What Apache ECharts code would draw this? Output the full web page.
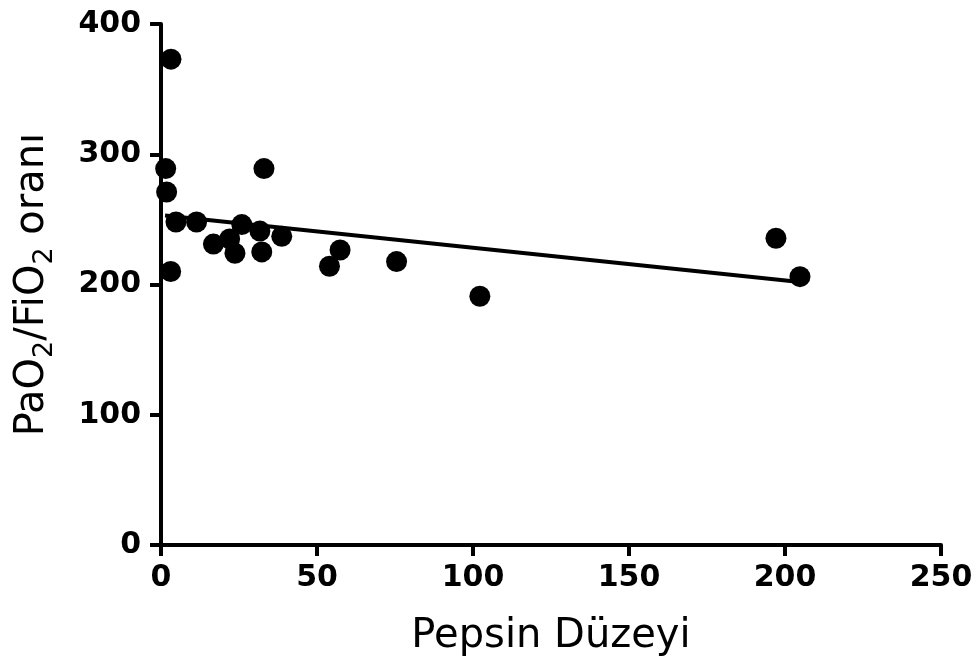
<!DOCTYPE html>
<html>
<head>
<meta charset="utf-8">
<script src="https://cdn.jsdelivr.net/npm/echarts@6/dist/echarts.min.js"></script>
<style>
  html, body { margin: 0; padding: 0; background: #fff; }
  #chart { width: 978px; height: 668px; }
</style>
</head>
<body>
<div id="chart"></div>
<script>
// pepsin level (x) vs PaO2/FiO2 ratio (y)
const pepsin = [3.2, 1.5, 1.8, 3.1, 4.8, 11.4, 16.8, 22, 23.7, 25.9, 31.7, 32.3, 33, 38.7, 54, 57.4, 75.5, 102.2, 197.1, 204.8]
const ratio = [373, 289, 271, 210, 248, 248, 231, 235, 224, 246, 241, 225, 289, 237, 214, 226.5, 217.6, 191, 235.5, 206]

// fitted regression line ends
const fitX = [1.3, 204.8]
const fitY = [253, 202]

const xTicks = [0, 250, 50]   // min, max, interval
const yTicks = [0, 400, 100]

const chart = echarts.init(document.getElementById('chart'))

const labelFont = {
  fontFamily: 'DejaVu Sans',
  fontWeight: 'bold',
  fontSize: 30,
  color: '#000'
}

const axisCommon = {
  splitLine: { show: false },
  axisLine: { show: true, onZero: false, lineStyle: { color: '#000', width: 4 } },
  axisTick: { show: true, length: 11, lineStyle: { color: '#000', width: 4 } }
}

chart.setOption({
  animation: false,
  grid: { left: 161, right: 37, top: 24, bottom: 123 },
  xAxis: {
    ...axisCommon,
    type: 'value',
    min: xTicks[0],
    max: xTicks[1],
    interval: xTicks[2],
    name: 'Pepsin Düzeyi',
    nameLocation: 'middle',
    nameGap: 72,
    nameTextStyle: { fontFamily: 'DejaVu Sans', fontSize: 40, color: '#000' },
    axisLabel: { ...labelFont, margin: 18 }
  },
  yAxis: {
    ...axisCommon,
    type: 'value',
    min: yTicks[0],
    max: yTicks[1],
    interval: yTicks[2],
    name: '{n|PaO}{s|2}{n|/FiO}{s|2}{n| oranı}',
    nameLocation: 'middle',
    nameGap: 103,
    nameTextStyle: {
      rich: {
        n: { fontFamily: 'DejaVu Sans', fontSize: 40, color: '#000', lineHeight: 50 },
        s: { fontFamily: 'DejaVu Sans', fontSize: 27, color: '#000', lineHeight: 50, verticalAlign: 'bottom', padding: [16, 0, 0, 0] }
      }
    },
    axisLabel: { ...labelFont, margin: 20 }
  },
  series: [
    {
      type: 'line',
      data: fitX.map((x, i) => [x, fitY[i]]),
      symbol: 'none',
      lineStyle: { color: '#000', width: 4 },
      z: 2
    },
    {
      type: 'scatter',
      data: pepsin.map((x, i) => [x, ratio[i]]),
      symbol: 'circle',
      symbolSize: 21,
      itemStyle: { color: '#000', opacity: 1 },
      z: 3
    }
  ]
})
</script>
</body>
</html>
